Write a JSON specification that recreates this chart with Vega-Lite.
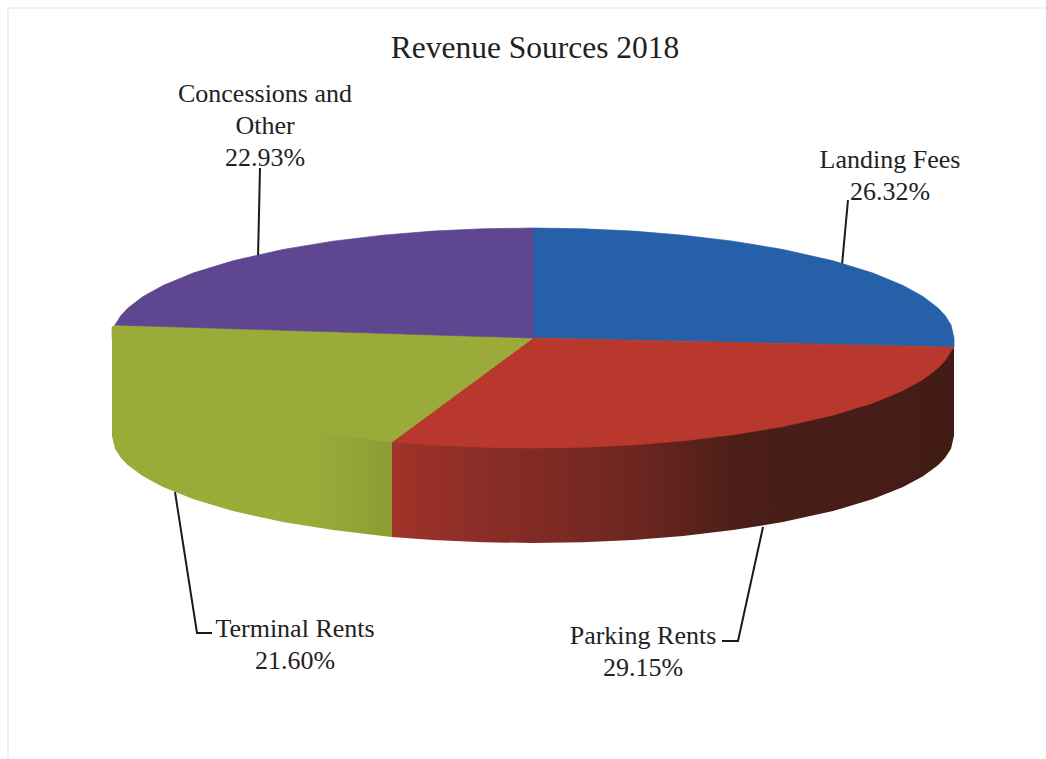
{"$schema":"https://vega.github.io/schema/vega-lite/v6.json","width":1046,"height":759,"autosize":{"type":"none"},"padding":0,"background":"white","title":{"text":"Revenue Sources 2018","font":"Liberation Serif","fontSize":31.5,"fontWeight":"normal","color":"#222222","anchor":"middle","frame":"group","dx":12,"offset":-64},"config":{"view":{"stroke":null}},"datasets":{"outline":[
{"slice":"Landing Fees","part":"top","x":533,"y":228,"y2":338},{"slice":"Landing Fees","part":"top","x":583,"y":228.8,"y2":339.1},{"slice":"Landing Fees","part":"top","x":633,"y":231.1,"y2":340.2},{"slice":"Landing Fees","part":"top","x":683,"y":235.2,"y2":341.2},{"slice":"Landing Fees","part":"top","x":733,"y":241.2,"y2":342.3},{"slice":"Landing Fees","part":"top","x":783,"y":249.5,"y2":343.4},{"slice":"Landing Fees","part":"top","x":833,"y":260.8,"y2":344.5},{"slice":"Landing Fees","part":"top","x":873,"y":273.1,"y2":345.3},{"slice":"Landing Fees","part":"top","x":903,"y":285.5,"y2":346},{"slice":"Landing Fees","part":"top","x":923,"y":296.6,"y2":346.4},{"slice":"Landing Fees","part":"top","x":938,"y":308,"y2":346.7},{"slice":"Landing Fees","part":"top","x":945,"y":315.4,"y2":346.9},{"slice":"Landing Fees","part":"top","x":951,"y":324.9,"y2":347},{"slice":"Landing Fees","part":"top","x":954,"y":338,"y2":347},
{"slice":"Parking Rents","part":"top","x":392,"y":442,"y2":442},{"slice":"Parking Rents","part":"top","x":433,"y":411.8,"y2":444.9},{"slice":"Parking Rents","part":"top","x":483,"y":374.9,"y2":447.2},{"slice":"Parking Rents","part":"top","x":533,"y":338,"y2":448},{"slice":"Parking Rents","part":"top","x":583,"y":339.1,"y2":447.2},{"slice":"Parking Rents","part":"top","x":633,"y":340.2,"y2":444.9},{"slice":"Parking Rents","part":"top","x":683,"y":341.2,"y2":440.8},{"slice":"Parking Rents","part":"top","x":733,"y":342.3,"y2":434.8},{"slice":"Parking Rents","part":"top","x":783,"y":343.4,"y2":426.5},{"slice":"Parking Rents","part":"top","x":833,"y":344.5,"y2":415.2},{"slice":"Parking Rents","part":"top","x":873,"y":345.3,"y2":402.9},{"slice":"Parking Rents","part":"top","x":903,"y":346,"y2":390.5},{"slice":"Parking Rents","part":"top","x":923,"y":346.4,"y2":379.4},{"slice":"Parking Rents","part":"top","x":938,"y":346.7,"y2":368},{"slice":"Parking Rents","part":"top","x":945,"y":346.9,"y2":360.6},{"slice":"Parking Rents","part":"top","x":951,"y":347,"y2":351.1},{"slice":"Parking Rents","part":"top","x":954,"y":347,"y2":347},
{"slice":"Terminal Rents","part":"top","x":112,"y":327,"y2":338},{"slice":"Terminal Rents","part":"top","x":115,"y":325,"y2":351.1},{"slice":"Terminal Rents","part":"top","x":121,"y":325.2,"y2":360.6},{"slice":"Terminal Rents","part":"top","x":128,"y":325.4,"y2":368},{"slice":"Terminal Rents","part":"top","x":143,"y":325.9,"y2":379.4},{"slice":"Terminal Rents","part":"top","x":163,"y":326.5,"y2":390.5},{"slice":"Terminal Rents","part":"top","x":193,"y":327.4,"y2":402.9},{"slice":"Terminal Rents","part":"top","x":233,"y":328.7,"y2":415.2},{"slice":"Terminal Rents","part":"top","x":283,"y":330.2,"y2":426.5},{"slice":"Terminal Rents","part":"top","x":333,"y":331.8,"y2":434.8},{"slice":"Terminal Rents","part":"top","x":383,"y":333.3,"y2":440.8},{"slice":"Terminal Rents","part":"top","x":392,"y":333.6,"y2":442},{"slice":"Terminal Rents","part":"top","x":533,"y":338,"y2":338},
{"slice":"Concessions and Other","part":"top","x":115,"y":325,"y2":325},{"slice":"Concessions and Other","part":"top","x":121,"y":315.4,"y2":325.2},{"slice":"Concessions and Other","part":"top","x":128,"y":308,"y2":325.4},{"slice":"Concessions and Other","part":"top","x":143,"y":296.6,"y2":325.9},{"slice":"Concessions and Other","part":"top","x":163,"y":285.5,"y2":326.5},{"slice":"Concessions and Other","part":"top","x":193,"y":273.1,"y2":327.4},{"slice":"Concessions and Other","part":"top","x":233,"y":260.8,"y2":328.7},{"slice":"Concessions and Other","part":"top","x":283,"y":249.5,"y2":330.2},{"slice":"Concessions and Other","part":"top","x":333,"y":241.2,"y2":331.8},{"slice":"Concessions and Other","part":"top","x":383,"y":235.2,"y2":333.3},{"slice":"Concessions and Other","part":"top","x":433,"y":231.1,"y2":334.9},{"slice":"Concessions and Other","part":"top","x":483,"y":228.8,"y2":336.4},{"slice":"Concessions and Other","part":"top","x":533,"y":228,"y2":338},
{"slice":"Parking Rents","part":"wall","x":392,"y":438,"y2":537},{"slice":"Parking Rents","part":"wall","x":433,"y":441,"y2":539.9},{"slice":"Parking Rents","part":"wall","x":483,"y":443,"y2":542.2},{"slice":"Parking Rents","part":"wall","x":533,"y":444,"y2":543},{"slice":"Parking Rents","part":"wall","x":583,"y":443,"y2":542.2},{"slice":"Parking Rents","part":"wall","x":633,"y":441,"y2":539.9},{"slice":"Parking Rents","part":"wall","x":683,"y":437,"y2":536},{"slice":"Parking Rents","part":"wall","x":733,"y":431,"y2":530.1},{"slice":"Parking Rents","part":"wall","x":783,"y":423,"y2":522.1},{"slice":"Parking Rents","part":"wall","x":833,"y":412,"y2":511.1},{"slice":"Parking Rents","part":"wall","x":873,"y":400,"y2":499.1},{"slice":"Parking Rents","part":"wall","x":903,"y":388,"y2":487.1},{"slice":"Parking Rents","part":"wall","x":923,"y":377,"y2":476.3},{"slice":"Parking Rents","part":"wall","x":938,"y":366,"y2":465.2},{"slice":"Parking Rents","part":"wall","x":945,"y":358.6,"y2":458},{"slice":"Parking Rents","part":"wall","x":951,"y":349.5,"y2":448.7},{"slice":"Parking Rents","part":"wall","x":954,"y":347,"y2":436},
{"slice":"Terminal Rents","part":"wall","x":112,"y":327,"y2":436},{"slice":"Terminal Rents","part":"wall","x":115,"y":347,"y2":448.7},{"slice":"Terminal Rents","part":"wall","x":121,"y":356,"y2":458},{"slice":"Terminal Rents","part":"wall","x":128,"y":364,"y2":465.2},{"slice":"Terminal Rents","part":"wall","x":143,"y":375,"y2":476.3},{"slice":"Terminal Rents","part":"wall","x":163,"y":386,"y2":487.1},{"slice":"Terminal Rents","part":"wall","x":193,"y":399,"y2":499.1},{"slice":"Terminal Rents","part":"wall","x":233,"y":411,"y2":511.1},{"slice":"Terminal Rents","part":"wall","x":283,"y":422,"y2":522.1},{"slice":"Terminal Rents","part":"wall","x":333,"y":430,"y2":530.1},{"slice":"Terminal Rents","part":"wall","x":383,"y":436,"y2":536},{"slice":"Terminal Rents","part":"wall","x":392,"y":438,"y2":537}
],"leaders":[
{"id":"Concessions and Other","seq":0,"x":260,"y":168},{"id":"Concessions and Other","seq":1,"x":258,"y":258},
{"id":"Landing Fees","seq":0,"x":848,"y":200},{"id":"Landing Fees","seq":1,"x":842,"y":265},
{"id":"Terminal Rents","seq":0,"x":175,"y":492},{"id":"Terminal Rents","seq":1,"x":197,"y":633},{"id":"Terminal Rents","seq":2,"x":212,"y":633},
{"id":"Parking Rents","seq":0,"x":763,"y":527},{"id":"Parking Rents","seq":1,"x":738,"y":641},{"id":"Parking Rents","seq":2,"x":722,"y":641}
],"frame":[{"seq":0,"x":8,"y":759},{"seq":1,"x":8,"y":8},{"seq":2,"x":1046,"y":8}],"labels":[
{"slice":"Landing Fees","share":26.32,"label":"Landing Fees\n26.32%","x":890,"y":168},
{"slice":"Parking Rents","share":29.15,"label":"Parking Rents\n29.15%","x":643,"y":644},
{"slice":"Terminal Rents","share":21.6,"label":"Terminal Rents\n21.60%","x":295,"y":637},
{"slice":"Concessions and Other","share":22.93,"label":"Concessions and\nOther\n22.93%","x":265,"y":102}
]},"encoding":{"x":{"field":"x","type":"quantitative","scale":{"domain":[0,1046]},"axis":null},"y":{"field":"y","type":"quantitative","scale":{"domain":[759,0]},"axis":null}},"layer":[
{"data":{"name":"frame"},"mark":{"type":"line","color":"#f0f0f0","strokeWidth":2},"encoding":{"order":{"field":"seq","type":"quantitative"}}},
{"data":{"name":"leaders"},"mark":{"type":"line","color":"#1a1a1a","strokeWidth":2},"encoding":{"detail":{"field":"id"},"order":{"field":"seq","type":"quantitative"}}},
{"data":{"name":"outline"},"transform":[{"filter":"datum.part==='wall'&&datum.slice==='Terminal Rents'"}],"mark":{"type":"area","color":{"gradient":"linear","x1":0,"x2":1,"y1":0,"y2":0,"stops":[{"offset":0,"color":"#9aab38"},{"offset":0.7,"color":"#9cac39"},{"offset":1,"color":"#8c9c33"}]}},"encoding":{"y":{"field":"y","type":"quantitative","stack":null},"y2":{"field":"y2"}}},
{"data":{"name":"outline"},"transform":[{"filter":"datum.part==='wall'&&datum.slice==='Parking Rents'"}],"mark":{"type":"area","color":{"gradient":"linear","x1":0,"x2":1,"y1":0,"y2":0,"stops":[{"offset":0,"color":"#a1332a"},{"offset":0.16,"color":"#8a2d26"},{"offset":0.42,"color":"#6f2620"},{"offset":0.62,"color":"#4b1e18"},{"offset":1,"color":"#431c16"}]}},"encoding":{"y":{"field":"y","type":"quantitative","stack":null},"y2":{"field":"y2"}}},
{"data":{"name":"outline"},"transform":[{"filter":"datum.part==='top'"}],"mark":{"type":"area","strokeWidth":0.7},"encoding":{"y":{"field":"y","type":"quantitative","stack":null},"y2":{"field":"y2"},"color":{"field":"slice","type":"nominal","legend":null,"scale":{"domain":["Landing Fees","Parking Rents","Terminal Rents","Concessions and Other"],"range":["#2560a9","#b9382d","#9bab39","#5f4690"]}},"stroke":{"field":"slice","type":"nominal","legend":null,"scale":{"domain":["Landing Fees","Parking Rents","Terminal Rents","Concessions and Other"],"range":["#2560a9","#b9382d","#9bab39","#5f4690"]}}}},
{"data":{"name":"labels"},"mark":{"type":"text","font":"Liberation Serif","fontSize":26,"color":"#222222","align":"center","baseline":"alphabetic","lineBreak":"\n","lineHeight":32},"encoding":{"text":{"field":"label"}}}
]}
